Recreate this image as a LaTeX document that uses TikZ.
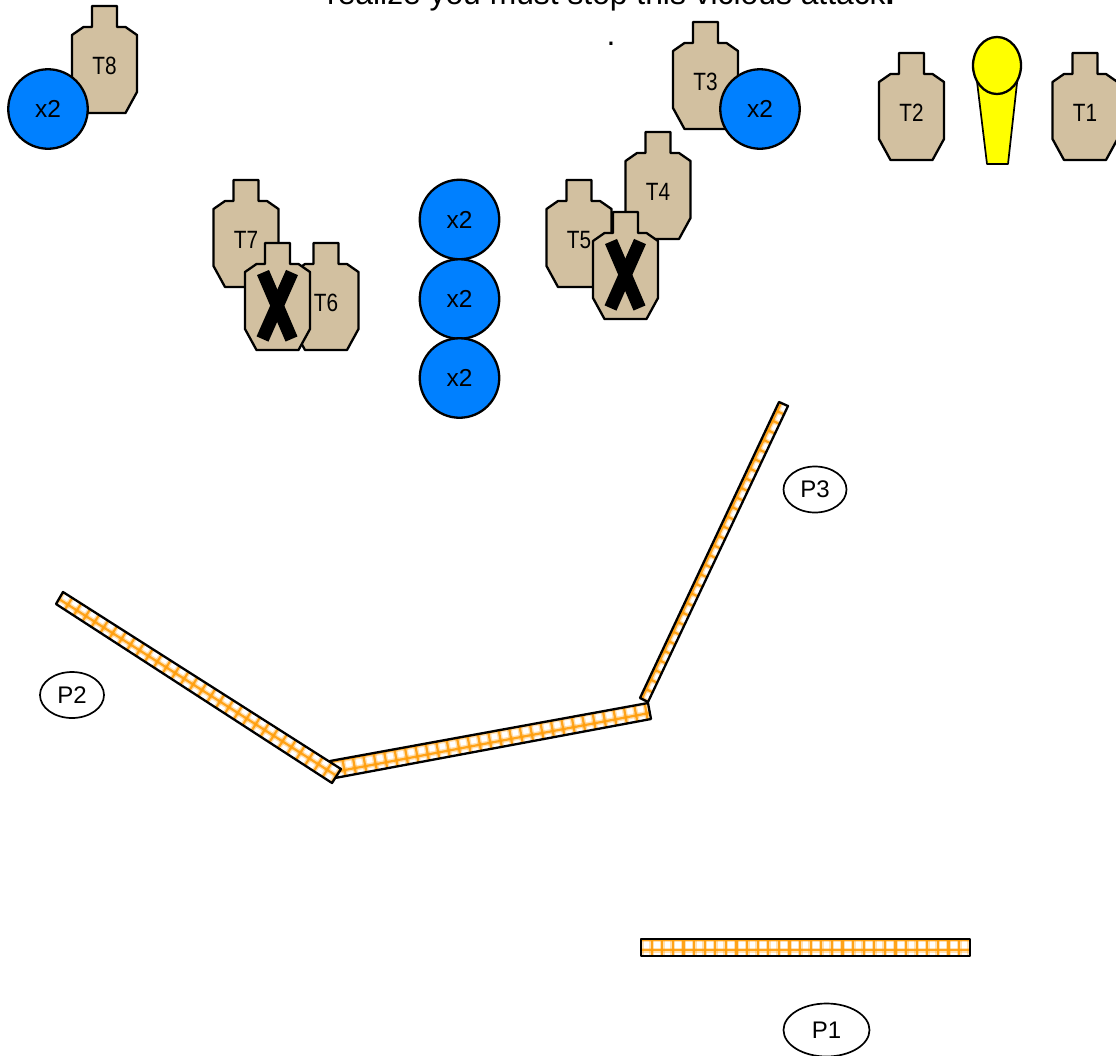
\documentclass[tikz,border=0pt]{standalone}
\usepackage{fontspec}
\setmainfont{Liberation Sans}
\definecolor{tan}{HTML}{D2C0A0}
\definecolor{bluecirc}{HTML}{0080FF}
\definecolor{hatch}{HTML}{FF9E0B}
\definecolor{popper}{HTML}{FFFF00}
\tikzset{
  outline/.style={draw=black,line width=2.3pt,line join=round},
  tgtlabel/.style={font=\fontsize{25}{25}\selectfont,xscale=0.83,inner sep=0pt},
  bonus/.style={circle,outline,fill=bluecirc,minimum size=79.5pt,inner sep=0pt,font=\fontsize{24.5}{25}\selectfont},
  person/.style={ellipse,draw=black,line width=1.7pt,fill=white,inner sep=0pt,font=\fontsize{24}{24}\selectfont},
  gridglow/.style={draw=hatch,line width=5pt,opacity=0.3},
  gridline/.style={draw=hatch,line width=2.2pt,opacity=0.9},
  noshoot/.style={line width=13pt,draw=black}
}
\usetikzlibrary{shapes.geometric}
% centre x, top y
\newcommand{\tgtshape}[2]{%
  \draw[outline,fill=tan,shift={(#1,#2)}]
    (-12.5,0) -- (12.5,0) -- (12.5,21) -- (21,21) -- (32.5,29) -- (32.5,86)
    -- (21,107) -- (-21,107) -- (-32.5,86) -- (-32.5,29) -- (-21,21) -- (-12.5,21) -- cycle;}
\newcommand{\tgt}[4]{\tgtshape{#1}{#2}%
  \node[tgtlabel] (#3) at (#1,#2+60) {#4};}
\newcommand{\noshootmark}[2]{\tgtshape{#1}{#2}%
  \draw[noshoot,shift={(#1,#2)}] (-14.5,29.5) -- (14,96);
  \draw[noshoot,shift={(#1,#2)}] (14.5,29.5) -- (-15,96);}
\newcommand{\xtwo}{\raisebox{-1.5pt}{x2}}
% four corners, grid origin, rotation
\newcommand{\barrier}[6]{%
  \begin{scope}
    \clip #1 -- #2 -- #3 -- #4 -- cycle;
    \fill[white] #1 -- #2 -- #3 -- #4 -- cycle;
    \begin{scope}[shift={#5},rotate=#6]
      \foreach \k in {-2,...,36}{\draw[gridglow] (\k*10.6,-40) -- (\k*10.6,40);\draw[gridline] (\k*10.6,-40) -- (\k*10.6,40);}
      \foreach \k in {-3,...,3}{\draw[gridglow] (-40,\k*10.6) -- (400,\k*10.6);\draw[gridline] (-40,\k*10.6) -- (400,\k*10.6);}
    \end{scope}
  \end{scope}
  \draw[outline] #1 -- #2 -- #3 -- #4 -- cycle;}
\begin{document}
\begin{tikzpicture}[x=1pt,y=-1pt]
\useasboundingbox (0,0) rectangle (1116,1055);
\clip (0,0) rectangle (1116,1055);
\fill[white] (0,0) rectangle (1116,1055);
\node[font=\fontsize{31.8}{32}\selectfont,anchor=base west,inner sep=0pt] (headline) at (327,4) {realize you must stop this vicious attack\textbf{.}};
\node[font=\fontsize{31.8}{32}\selectfont,anchor=base,inner sep=0pt] (dot) at (611,45) {.};
\tgt{104.5}{6}{T8}{T8}
\node[bonus] (b8) at (48,109) {\xtwo};
\tgt{705.5}{22}{T3}{T3}
\node[bonus] (b3) at (760,109) {\xtwo};
\tgt{911.5}{53}{T2}{T2}
\tgt{1085}{53}{T1}{T1}
\draw[outline,line width=1.7pt,fill=popper] (975,65) -- (1019,65) -- (1008,164) -- (987,164) -- cycle;
\draw[outline,fill=popper] (997,65.5) ellipse [x radius=24,y radius=28.5];
\tgt{658}{132}{T4}{T4}
\tgt{579}{180}{T5}{T5}
\noshootmark{625.5}{212}
\tgt{246}{180}{T7}{T7}
\tgt{326}{243}{T6}{T6}
\noshootmark{277.5}{243}
\node[bonus] (c1) at (459.5,219.5) {\xtwo};
\node[bonus] (c2) at (459.5,299) {\xtwo};
\node[bonus] (c3) at (459.5,378) {\xtwo};
\barrier{(779,402)}{(788,406)}{(648,702)}{(640,698)}{(641.8,698.9)}{64.8}
\barrier{(330,761)}{(648,703)}{(651,719)}{(335,778)}{(334,772)}{10.6}
\barrier{(63,592)}{(341,769)}{(332,783)}{(56,604)}{(59,599)}{-32.5}
\barrier{(641,939)}{(970,939)}{(970,956)}{(641,956)}{(641,950)}{0}
\node[person,minimum width=63pt,minimum height=46pt] (P3) at (815,489.5) {P3};
\node[person,minimum width=64pt,minimum height=46pt] (P2) at (72,695) {P2};
\node[person,minimum width=86pt,minimum height=53pt] (P1) at (826.5,1030) {P1};
\end{tikzpicture}
\end{document}
